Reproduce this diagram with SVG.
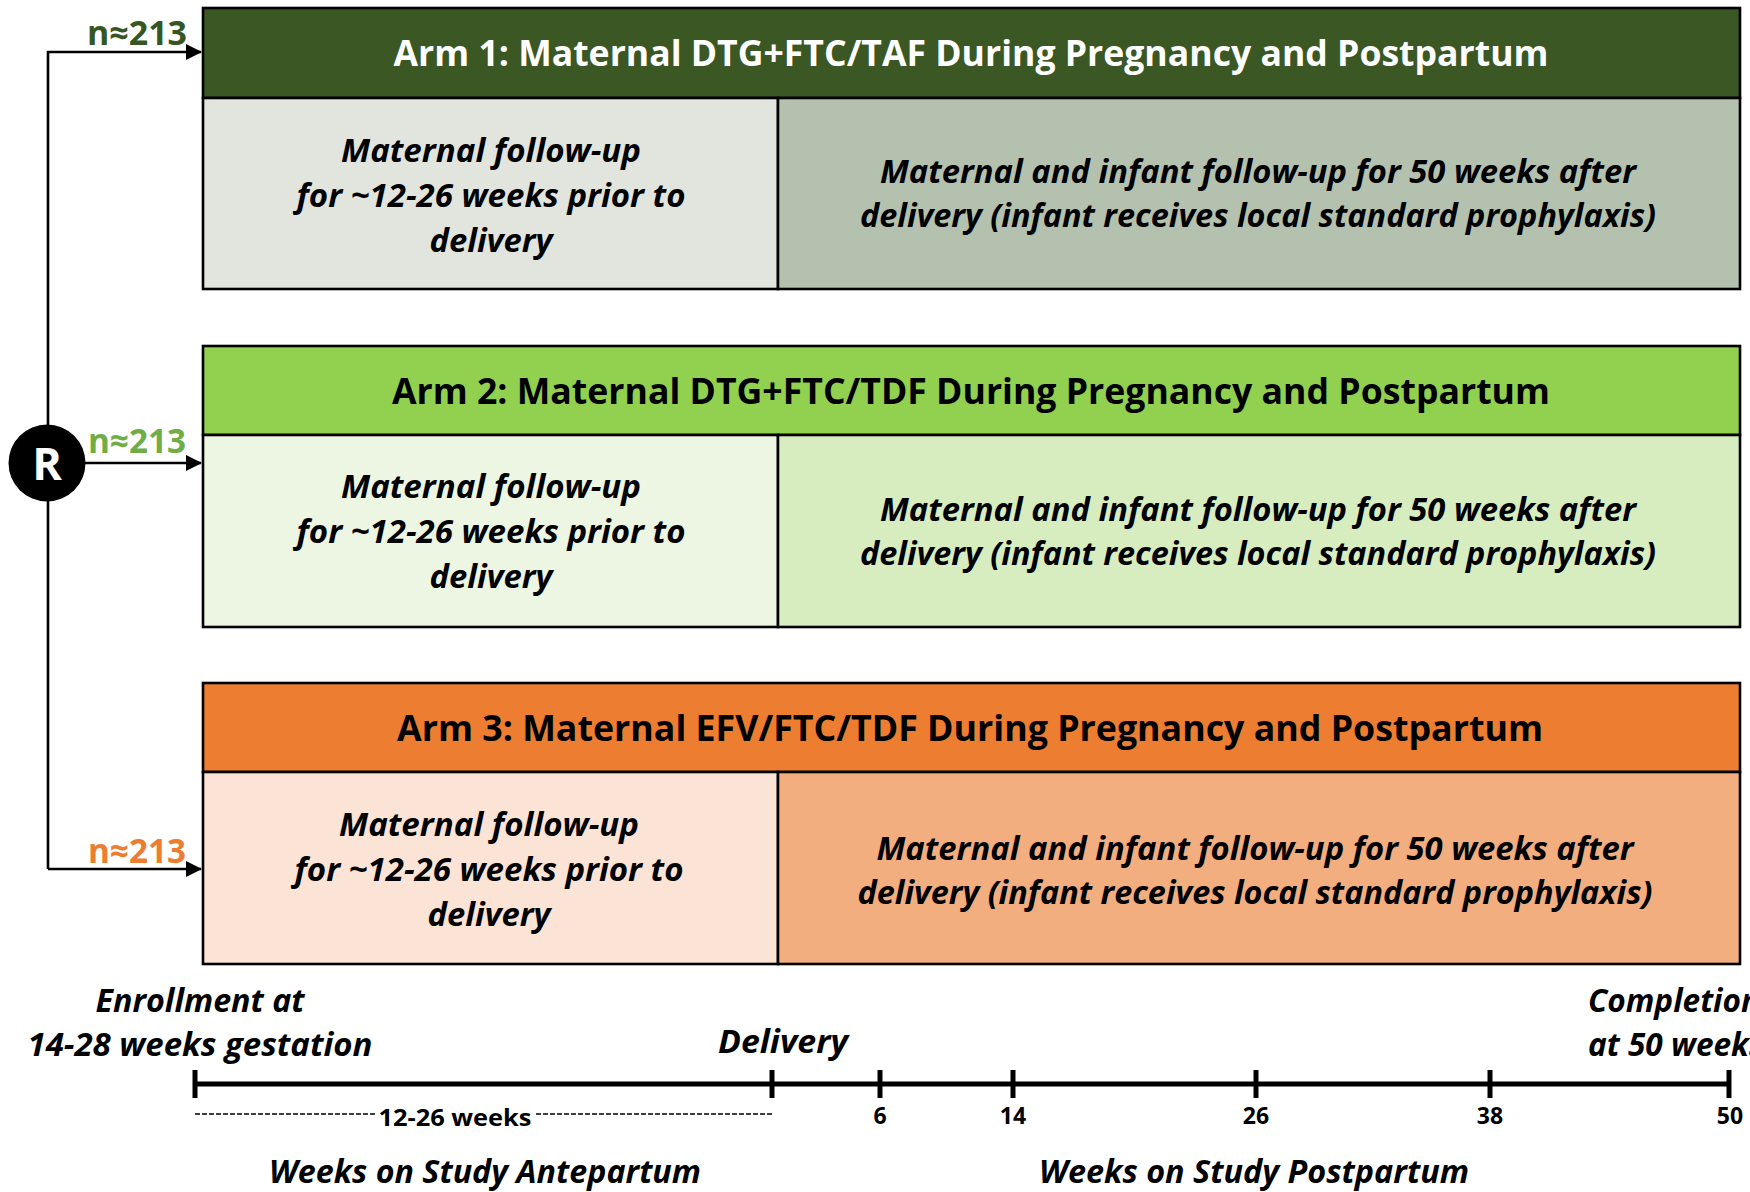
<svg xmlns="http://www.w3.org/2000/svg" width="1750" height="1192" viewBox="0 0 1750 1192">
<style>
.box{stroke:#000;stroke-width:2.6}
.hdr{font-family:"Open Sans","Noto Sans",sans-serif;font-weight:700;font-size:36px;text-anchor:middle}
.body{font-family:"Open Sans","Noto Sans",sans-serif;font-weight:700;font-style:italic;font-size:32px;text-anchor:middle;fill:#000}
.n{font-family:"Open Sans","Noto Sans",sans-serif;font-weight:700;font-size:34px;text-anchor:end}
.conn{stroke:#000;stroke-width:2.6;fill:none}
.tl{font-family:"Open Sans","Noto Sans",sans-serif;font-weight:700;font-style:italic;font-size:32px;fill:#000}
.num{font-family:"Open Sans","Noto Sans",sans-serif;font-weight:700;font-size:23px;text-anchor:middle;fill:#000}
</style>
<defs>
<marker id="arr" markerWidth="16" markerHeight="16" refX="15" refY="8" orient="auto" markerUnits="userSpaceOnUse">
<path d="M0,0 L16,8 L0,16 Z" fill="#000"/>
</marker>
</defs>
<rect width="1750" height="1192" fill="#fff"/>

<g id="connectors">
<path class="conn" d="M48,869 L48,52 L201,52" marker-end="url(#arr)"/>
<path class="conn" d="M80,463 L201,463" marker-end="url(#arr)"/>
<path class="conn" d="M48,869 L201,869" marker-end="url(#arr)"/>
</g>

<g id="randomize">
<circle cx="47" cy="463" r="38.5" fill="#000"/>
<text x="47" y="480" font-family="Open Sans, Noto Sans, sans-serif" font-weight="700" font-size="45" fill="#fff" text-anchor="middle">R</text>
</g>

<g id="n1"><text class="n" x="187" y="45" fill="#375623" textLength="100" lengthAdjust="spacingAndGlyphs">n≈213</text></g>
<g id="n2"><text class="n" x="186" y="453" fill="#70AD47" textLength="98" lengthAdjust="spacingAndGlyphs">n≈213</text></g>
<g id="n3"><text class="n" x="186" y="863" fill="#ED7D31" textLength="98" lengthAdjust="spacingAndGlyphs">n≈213</text></g>

<g id="arm1">
<rect class="box" x="203" y="8" width="1537" height="90" fill="#3A5724"/>
<rect class="box" x="203" y="98" width="575" height="191" fill="#E2E5DE"/>
<rect class="box" x="778" y="98" width="962" height="191" fill="#B5C1AF"/>
<text class="hdr" x="971" y="66" fill="#fff" textLength="1155" lengthAdjust="spacingAndGlyphs">Arm 1: Maternal DTG+FTC/TAF During Pregnancy and Postpartum</text>
<text class="body" x="491" y="162" textLength="300" lengthAdjust="spacingAndGlyphs">Maternal follow-up</text>
<text class="body" x="491" y="207" textLength="389" lengthAdjust="spacingAndGlyphs">for ~12-26 weeks prior to</text>
<text class="body" x="491" y="252" textLength="123" lengthAdjust="spacingAndGlyphs">delivery</text>
<text class="body" x="1258" y="183" textLength="756" lengthAdjust="spacingAndGlyphs">Maternal and infant follow-up for 50 weeks after</text>
<text class="body" x="1258" y="227" textLength="796" lengthAdjust="spacingAndGlyphs">delivery (infant receives local standard prophylaxis)</text>
</g>

<g id="arm2">
<rect class="box" x="203" y="346" width="1537" height="89" fill="#92D050"/>
<rect class="box" x="203" y="435" width="575" height="192" fill="#EDF5E3"/>
<rect class="box" x="778" y="435" width="962" height="192" fill="#D7EDC0"/>
<text class="hdr" x="971" y="404" fill="#000" textLength="1158" lengthAdjust="spacingAndGlyphs">Arm 2: Maternal DTG+FTC/TDF During Pregnancy and Postpartum</text>
<text class="body" x="491" y="498" textLength="300" lengthAdjust="spacingAndGlyphs">Maternal follow-up</text>
<text class="body" x="491" y="543" textLength="389" lengthAdjust="spacingAndGlyphs">for ~12-26 weeks prior to</text>
<text class="body" x="491" y="588" textLength="123" lengthAdjust="spacingAndGlyphs">delivery</text>
<text class="body" x="1258" y="521" textLength="756" lengthAdjust="spacingAndGlyphs">Maternal and infant follow-up for 50 weeks after</text>
<text class="body" x="1258" y="565" textLength="796" lengthAdjust="spacingAndGlyphs">delivery (infant receives local standard prophylaxis)</text>
</g>

<g id="arm3">
<rect class="box" x="203" y="683" width="1537" height="89" fill="#ED7D31"/>
<rect class="box" x="203" y="772" width="575" height="192" fill="#FBE4D5"/>
<rect class="box" x="778" y="772" width="962" height="192" fill="#F3AE80"/>
<text class="hdr" x="970" y="741" fill="#000" textLength="1146" lengthAdjust="spacingAndGlyphs">Arm 3: Maternal EFV/FTC/TDF During Pregnancy and Postpartum</text>
<text class="body" x="489" y="836" textLength="300" lengthAdjust="spacingAndGlyphs">Maternal follow-up</text>
<text class="body" x="489" y="881" textLength="389" lengthAdjust="spacingAndGlyphs">for ~12-26 weeks prior to</text>
<text class="body" x="489" y="926" textLength="123" lengthAdjust="spacingAndGlyphs">delivery</text>
<text class="body" x="1255" y="860" textLength="757" lengthAdjust="spacingAndGlyphs">Maternal and infant follow-up for 50 weeks after</text>
<text class="body" x="1255" y="904" textLength="795" lengthAdjust="spacingAndGlyphs">delivery (infant receives local standard prophylaxis)</text>
</g>

<g id="timeline">
<line x1="195" y1="1084" x2="1729" y2="1084" stroke="#000" stroke-width="5"/>
<g stroke="#000" stroke-width="5">
<line x1="195" y1="1070" x2="195" y2="1098"/>
<line x1="772" y1="1070" x2="772" y2="1098"/>
<line x1="880" y1="1070" x2="880" y2="1098"/>
<line x1="1013" y1="1070" x2="1013" y2="1098"/>
<line x1="1256" y1="1070" x2="1256" y2="1098"/>
<line x1="1490" y1="1070" x2="1490" y2="1098"/>
<line x1="1729" y1="1070" x2="1729" y2="1098"/>
</g>
<g stroke="#000" stroke-width="1.5" stroke-dasharray="5,2">
<line x1="195" y1="1114" x2="376" y2="1114"/>
<line x1="536" y1="1114" x2="772" y2="1114"/>
</g>
<text class="num" x="455" y="1126" textLength="153" lengthAdjust="spacingAndGlyphs">12-26 weeks</text>
<text class="num" x="880" y="1124">6</text>
<text class="num" x="1013" y="1124">14</text>
<text class="num" x="1256" y="1124">26</text>
<text class="num" x="1490" y="1124">38</text>
<text class="num" x="1730" y="1124">50</text>
<text class="tl" x="200" y="1012" text-anchor="middle" textLength="209" lengthAdjust="spacingAndGlyphs">Enrollment at</text>
<text class="tl" x="200" y="1056" text-anchor="middle" textLength="345" lengthAdjust="spacingAndGlyphs">14-28 weeks gestation</text>
<text class="tl" x="783" y="1053" text-anchor="middle" textLength="130" lengthAdjust="spacingAndGlyphs">Delivery</text>
<text class="tl" x="1588" y="1012" textLength="172" lengthAdjust="spacingAndGlyphs">Completion</text>
<text class="tl" x="1588" y="1056" textLength="176" lengthAdjust="spacingAndGlyphs">at 50 weeks</text>
<text class="tl" x="485" y="1183" text-anchor="middle" textLength="432" lengthAdjust="spacingAndGlyphs">Weeks on Study Antepartum</text>
<text class="tl" x="1254" y="1183" text-anchor="middle" textLength="430" lengthAdjust="spacingAndGlyphs">Weeks on Study Postpartum</text>
</g>
</svg>
